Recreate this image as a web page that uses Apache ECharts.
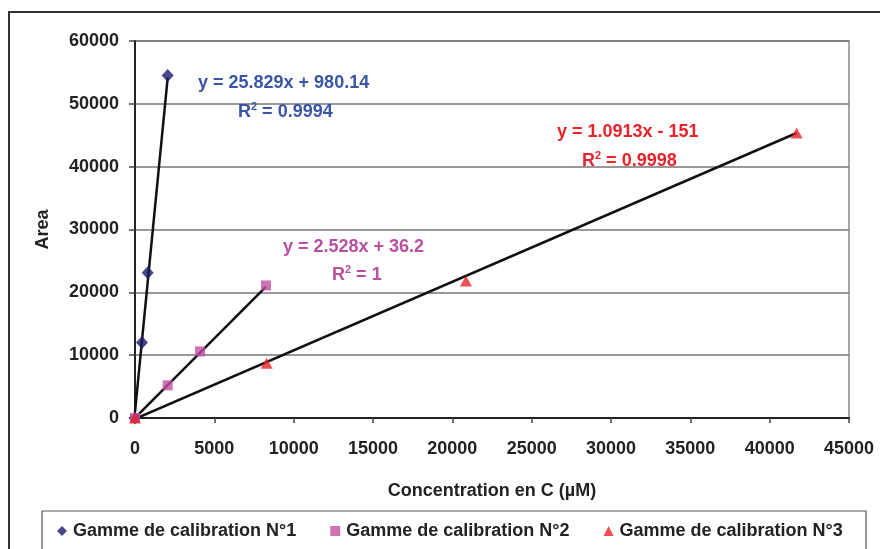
<!DOCTYPE html>
<html>
<head>
<meta charset="utf-8">
<script src="https://cdn.jsdelivr.net/npm/echarts@6/dist/echarts.min.js"></script>
<style>
html,body{margin:0;padding:0;background:#fff;}
#c{width:880px;height:549px;}
</style>
</head>
<body>
<div id="c"></div>
<script>
// ---- data ----
const seriesNames = ['Gamme de calibration N°1', 'Gamme de calibration N°2', 'Gamme de calibration N°3'];
const s1Conc = [0, 440, 800, 2060];
const s1Area = [0, 12000, 23100, 54500];
const s2Conc = [0, 2060, 4100, 8260];
const s2Area = [0, 5200, 10600, 21100];
const s3Conc = [0, 8300, 20860, 41700];
const s3Area = [0, 8700, 21800, 45350];
const trendSlope = [25.829, 2.528, 1.0913];
const trendIntercept = [980.14, 36.2, -151];
const eqTexts = ['y = 25.829x + 980.14', 'y = 2.528x + 36.2', 'y = 1.0913x - 151'];
const r2Values = ['0.9994', '1', '0.9998'];
const xTicks = [0, 5000, 10000, 15000, 20000, 25000, 30000, 35000, 40000, 45000];
const yTicks = [0, 10000, 20000, 30000, 40000, 50000, 60000];

// ---- styling ----
const FONT = 'Liberation Sans, Arial, sans-serif';
const markerColors = ['#1A1A68', '#C04FA0', '#E8232B'];
const eqColors = ['#3A55A6', '#B84FA0', '#E8232B'];
const symbols = ['diamond', 'rect', 'triangle'];
const symbolSizes = [[12, 13], 10, [12, 11]];

const concs = [s1Conc, s2Conc, s3Conc];
const areas = [s1Area, s2Area, s3Area];

const pts = (xs, ys) => xs.map((x, i) => [x, ys[i]]);

const series = [];
for (let k = 0; k < 3; k++) {
  const xs = concs[k];
  const x0 = Math.min.apply(null, xs), x1 = Math.max.apply(null, xs);
  series.push({
    type: 'line',
    name: 'trend' + (k + 1),
    data: [[x0, trendSlope[k] * x0 + trendIntercept[k]], [x1, trendSlope[k] * x1 + trendIntercept[k]]],
    showSymbol: false,
    symbol: 'none',
    lineStyle: { color: '#111', width: 2.5 },
    silent: true,
    z: 2
  });
}
for (let k = 0; k < 3; k++) {
  series.push({
    type: 'scatter',
    name: seriesNames[k],
    data: pts(concs[k], areas[k]),
    symbol: symbols[k],
    symbolSize: symbolSizes[k],
    itemStyle: { color: markerColors[k] },
    z: 3
  });
}

const eqPos = [[198, 83], [283, 247], [557, 132]];
const r2Pos = [[238, 112], [332, 275], [582, 161]];
const graphics = [
  { type: 'rect', shape: { x: 9, y: 12, width: 900, height: 600 }, style: { fill: 'none', stroke: '#333', lineWidth: 2 }, silent: true, z: -1 },
  { type: 'rect', shape: { x: 42, y: 511, width: 824, height: 60 }, style: { fill: 'none', stroke: '#555', lineWidth: 1.2 }, silent: true, z: -1 }
];
for (let k = 0; k < 3; k++) {
  graphics.push({
    type: 'text', x: eqPos[k][0], y: eqPos[k][1], z: 10,
    style: { text: eqTexts[k], fill: eqColors[k], font: 'bold 18px ' + FONT, verticalAlign: 'middle' }
  });
  graphics.push({
    type: 'text', x: r2Pos[k][0], y: r2Pos[k][1], z: 10,
    style: {
      text: 'R{sup|2} = ' + r2Values[k],
      fill: eqColors[k],
      font: 'bold 18px ' + FONT,
      fontSize: 18, fontWeight: 'bold', fontFamily: FONT,
      lineHeight: 22,
      verticalAlign: 'middle',
      rich: { sup: { fontSize: 11, fontWeight: 'bold', fontFamily: FONT, fill: eqColors[k], verticalAlign: 'top', lineHeight: 11 } }
    }
  });
}

const chart = echarts.init(document.getElementById('c'), null, { renderer: 'canvas' });
chart.setOption({
  backgroundColor: '#fff',
  animation: false,
  textStyle: { fontFamily: FONT },
  grid: { left: 135, right: 31, top: 41, bottom: 131, show: true, borderColor: '#888', borderWidth: 1.5, backgroundColor: 'transparent' },
  xAxis: {
    type: 'value', min: xTicks[0], max: xTicks[xTicks.length - 1], interval: xTicks[1] - xTicks[0],
    name: 'Concentration en C (µM)', nameLocation: 'middle', nameGap: 64,
    nameTextStyle: { fontSize: 18, fontWeight: 'bold', color: '#222', fontFamily: FONT },
    axisLine: { show: true, onZero: false, lineStyle: { color: '#222', width: 2 } },
    axisTick: { show: true, inside: false, length: 5, lineStyle: { color: '#444', width: 1.5 } },
    axisLabel: { fontSize: 18, fontWeight: 'bold', color: '#222', margin: 22, fontFamily: FONT, formatter: v => String(v) },
    splitLine: { show: false }
  },
  yAxis: {
    type: 'value', min: yTicks[0], max: yTicks[yTicks.length - 1], interval: yTicks[1] - yTicks[0],
    name: 'Area', nameLocation: 'middle', nameGap: 83, nameRotate: 90,
    nameTextStyle: { fontSize: 18, fontWeight: 'bold', color: '#222', fontFamily: FONT },
    axisLine: { show: true, onZero: false, lineStyle: { color: '#222', width: 2 } },
    axisTick: { show: true, inside: false, length: 6, lineStyle: { color: '#444', width: 1.5 } },
    axisLabel: { fontSize: 18, fontWeight: 'bold', color: '#222', margin: 16, fontFamily: FONT, formatter: v => String(v) },
    splitLine: { show: true, lineStyle: { color: '#777', width: 1.5 } }
  },
  legend: {
    data: seriesNames.map((n, k) => ({ name: n, icon: symbols[k] })),
    left: 57, top: 522, padding: 0,
    itemWidth: 10, itemHeight: 10, itemGap: 34,
    textStyle: { fontSize: 18, fontWeight: 'bold', color: '#222', fontFamily: FONT, padding: [0, 0, 0, 1] }
  },
  graphic: graphics,
  series: series
});
</script>
</body>
</html>
